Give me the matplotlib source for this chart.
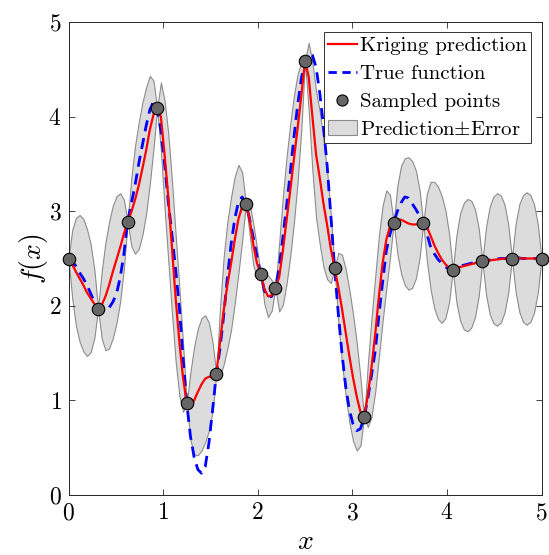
import matplotlib
matplotlib.use("Agg")
import matplotlib.pyplot as plt
import numpy as np
from matplotlib.patches import Patch
from matplotlib.lines import Line2D

plt.rcParams['font.family'] = 'serif'
plt.rcParams['font.serif'] = ['cmr10']
plt.rcParams['mathtext.fontset'] = 'cm'
plt.rcParams['axes.formatter.use_mathtext'] = True

# values, on a grid of 129 points from 0 to 5
x_grid = np.linspace(0, 5, 129)

pred = [2.50, 2.44, 2.36, 2.29, 2.22, 2.14, 2.08, 2.02, 1.97,
        2.01, 2.10, 2.22, 2.36, 2.49, 2.62, 2.76, 2.89,
        2.99, 3.12, 3.27, 3.45, 3.64, 3.86, 4.02, 4.09,
        4.00, 3.60, 3.15, 2.62, 2.08, 1.62, 1.24, 0.97,
        0.94, 1.00, 1.09, 1.17, 1.23, 1.25, 1.25, 1.28,
        1.62, 1.95, 2.22, 2.45, 2.70, 2.92, 3.05, 3.08,
        2.92, 2.65, 2.45, 2.34,
        2.18, 2.10, 2.11, 2.19,
        2.30, 2.58, 2.90, 3.22, 3.55, 3.88, 4.22, 4.59,
        4.42, 4.00, 3.60, 3.35, 3.08, 2.85, 2.60, 2.40,
        2.20, 1.97, 1.72, 1.47, 1.24, 1.04, 0.88, 0.82,
        1.05, 1.35, 1.70, 2.10, 2.45, 2.70, 2.84, 2.88,
        2.91, 2.91, 2.89, 2.87, 2.86, 2.86, 2.865, 2.87,
        2.83, 2.74, 2.64, 2.56, 2.49, 2.44, 2.40, 2.38,
        2.39, 2.41, 2.42, 2.43, 2.44, 2.45, 2.46, 2.47,
        2.475, 2.48, 2.485, 2.49, 2.495, 2.50, 2.50, 2.505,
        2.505, 2.505, 2.50, 2.50, 2.50, 2.50, 2.50, 2.50]

true_f = [2.50, 2.47, 2.42, 2.35, 2.29, 2.22, 2.13, 2.04, 1.97,
          1.94, 1.95, 1.98, 2.04, 2.13, 2.30, 2.55, 2.89,
          3.08, 3.27, 3.50, 3.70, 3.90, 4.07, 4.16, 4.09,
          3.85, 3.50, 3.10, 2.75, 2.38, 1.98, 1.45, 0.97,
          0.62, 0.40, 0.27, 0.23, 0.30, 0.55, 0.90, 1.28,
          1.55, 1.90, 2.30, 2.65, 2.92, 3.10, 3.15, 3.08,
          2.92, 2.72, 2.52, 2.34,
          2.16, 2.09, 2.10, 2.19,
          2.40, 2.72, 3.05, 3.40, 3.78, 4.12, 4.40, 4.59,
          4.67, 4.65, 4.52, 4.25, 3.90, 3.48, 2.95, 2.40,
          1.92, 1.50, 1.15, 0.90, 0.75, 0.68, 0.70, 0.82,
          1.02, 1.27, 1.52, 1.90, 2.25, 2.58, 2.76, 2.88,
          3.00, 3.09, 3.15, 3.14, 3.08, 3.02, 2.95, 2.87,
          2.76, 2.62, 2.55, 2.49, 2.45, 2.41, 2.39, 2.38,
          2.40, 2.42, 2.43, 2.44, 2.45, 2.46, 2.465, 2.47,
          2.48, 2.485, 2.49, 2.495, 2.50, 2.50, 2.505, 2.505,
          2.505, 2.505, 2.50, 2.50, 2.50, 2.50, 2.50, 2.50]

err = [0, .36, .57, .67, .70, .67, .57, .36,
       0, .36, .57, .67, .70, .67, .57, .36,
       0, .36, .57, .67, .70, .67, .57, .36,
       0, .36, .57, .67, .70, .67, .57, .36,
       0, .36, .57, .67, .70, .67, .57, .36,
       0, .36, .57, .67, .70, .67, .57, .36,
       0, .16, .22, .16,
       0, .16, .22, .16,
       0, .36, .57, .67, .70, .67, .57, .36,
       0, .36, .57, .67, .70, .67, .57, .36,
       0, .36, .57, .67, .70, .67, .57, .36,
       0, .33, .52, .61, .64, .61, .52, .33,
       0, .36, .57, .67, .70, .67, .57, .36,
       0, .36, .57, .67, .70, .67, .57, .36,
       0, .36, .57, .67, .70, .67, .57, .36,
       0, .36, .57, .67, .70, .67, .57, .36,
       0, .36, .57, .67, .70, .67, .57, .36,
       0]

x_samp = [0, 0.3125, 0.625, 0.9375, 1.25, 1.5625, 1.875, 2.03, 2.1875,
          2.5, 2.8125, 3.125, 3.4375, 3.75, 4.0625, 4.375, 4.6875, 5.0]
y_samp = [2.50, 1.97, 2.89, 4.09, 0.97, 1.28, 3.08, 2.34, 2.19,
          4.59, 2.40, 0.82, 2.88, 2.87, 2.38, 2.47, 2.50, 2.50]

pred = np.array(pred)
err = np.array(err)

fig = plt.figure(figsize=(5.49, 5.55), dpi=100)
ax = fig.add_axes([68.5/549, 1 - 495/555, 473/549, 473/555])

fill_col = '#dcdcdc'
edge_col = '#8c8c8c'
ax.fill_between(x_grid, pred - err, pred + err, facecolor=fill_col,
                edgecolor=edge_col, linewidth=0.8, zorder=1)
ax.plot(x_grid, true_f, '--', color='b', lw=2.0, dashes=(4, 2.5), zorder=2)
ax.plot(x_grid, pred, '-', color='r', lw=1.6, zorder=3)
ax.plot(x_samp, y_samp, 'o', ms=9, mfc='#666666', mec='k', mew=0.8,
        zorder=4, clip_on=False)

ax.set_xlim(0, 5)
ax.set_ylim(0, 5)
ax.set_xticks([0, 1, 2, 3, 4, 5])
ax.set_yticks([0, 1, 2, 3, 4, 5])
ax.tick_params(direction='in', top=True, right=True, labelsize=17,
               length=4, width=0.6, color='#262626', pad=5)
for s in ax.spines.values():
    s.set_color('#262626')
    s.set_linewidth(0.7)

ax.set_xlabel(r'$x$', fontsize=20, labelpad=3)
ax.set_ylabel(r'$f(x)$', fontsize=20, labelpad=-1)

handles = [Line2D([], [], color='r', lw=1.6),
           Line2D([], [], color='b', lw=2.0, ls='--', dashes=(3, 2)),
           Line2D([], [], ls='none', marker='o', ms=8, mfc='#666666',
                  mec='k', mew=0.8),
           Patch(facecolor=fill_col, edgecolor=edge_col, lw=0.8)]
labels = ['Kriging prediction', 'True function', 'Sampled points',
          r'Prediction$\pm$Error']
leg = ax.legend(handles, labels, loc='upper right', fontsize=15,
                frameon=True, fancybox=False, edgecolor='k',
                borderpad=0.2, labelspacing=0.45, handlelength=1.4,
                handletextpad=0.15, borderaxespad=0.5)
leg.get_frame().set_linewidth(0.7)

fig.savefig('out.png', dpi=100)
